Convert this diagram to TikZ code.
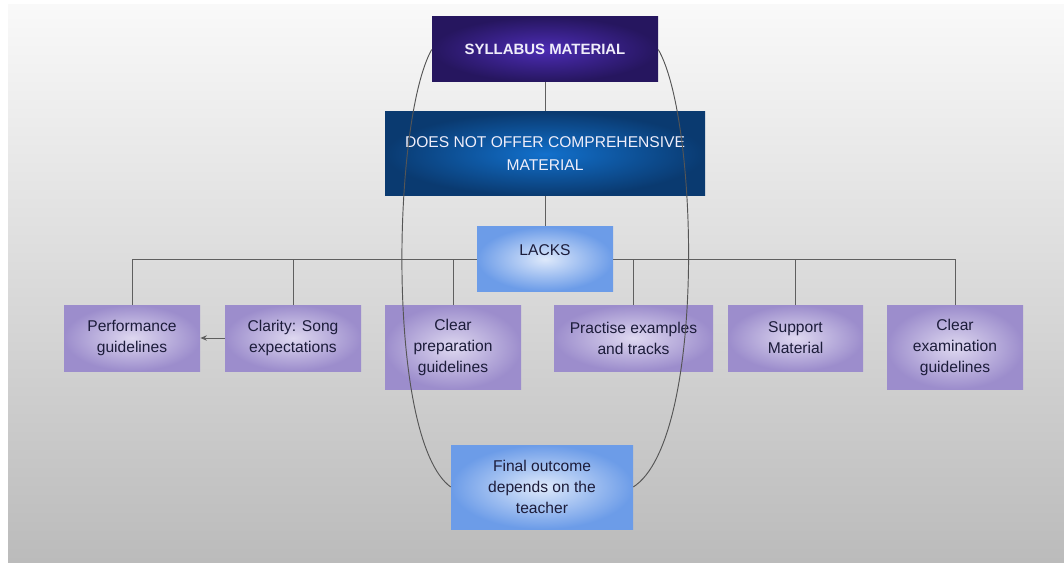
\documentclass[tikz,border=0pt]{standalone}
\usepackage{fontspec}
\setmainfont{Liberation Sans}
\usetikzlibrary{arrows.meta}
\definecolor{bgtop}{RGB}{249,249,249}
\definecolor{bgbot}{RGB}{187,187,187}
\definecolor{sylin}{RGB}{76,44,180}
\definecolor{sylout}{RGB}{38,22,95}
\definecolor{dnoin}{RGB}{18,112,204}
\definecolor{dnoout}{RGB}{10,58,112}
\definecolor{ltin}{RGB}{222,233,251}
\definecolor{ltout}{RGB}{108,156,232}
\definecolor{purin}{RGB}{222,216,240}
\definecolor{purout}{RGB}{156,141,204}
\definecolor{txtdark}{RGB}{28,28,58}
\definecolor{txtlight}{RGB}{240,238,250}
\definecolor{linec}{RGB}{95,95,95}
\definecolor{loopc}{RGB}{85,85,85}
\pgfdeclarelayer{bgl}
\pgfdeclarelayer{lines}
\pgfsetlayers{bgl,lines,main}
\begin{document}
\begin{tikzpicture}[x=0.75pt,y=-0.75pt,
  box/.style={rectangle, inner sep=0pt, align=center, draw=none},
  txt/.style={font=\fontsize{11.7}{15.75}\selectfont},
  sylbox/.style={box, inner color=sylin, outer color=sylout, minimum width=169.5pt, minimum height=48.75pt,
    text=txtlight, font=\bfseries\fontsize{11.2}{13}\selectfont},
  dnobox/.style={box, inner color=dnoin, outer color=dnoout, minimum width=240pt, minimum height=63pt,
    text=txtlight, font=\fontsize{11.7}{17.25}\selectfont},
  ltbox/.style={box, txt, inner color=ltin, outer color=ltout, text=txtdark},
  purbox/.style={box, txt, inner color=purin, outer color=purout, text=txtdark, minimum width=102pt, minimum height=49.5pt},
  tallbox/.style={purbox, minimum height=63pt},
  conn/.style={draw=linec, line width=0.7pt},
  loopline/.style={draw=loopc, line width=0.7pt}
]
\useasboundingbox (0,0) rectangle (1064,563);
\begin{pgfonlayer}{bgl}
  \fill[white] (0,0) rectangle (1064,563);
  \shade[top color=bgtop, bottom color=bgbot] (8,5) rectangle (1064,562);
\end{pgfonlayer}

\node[sylbox] (syl) at (545,49.5) {SYLLABUS MATERIAL};
\node[dnobox] (dno) at (545,154) {DOES NOT OFFER COMPREHENSIVE\\MATERIAL};
\node[ltbox, minimum width=102pt, minimum height=48pt] (lacks) at (545,259) {\raisebox{2.6pt}[0pt][0pt]{LACKS}};

\node[purbox] (perf) at (132,338) {Performance\\guidelines};
\node[purbox] (clar) at (293,338) {Clarity: Song\\expectations};
\node[tallbox] (prep) at (453,347) {Clear\\preparation\\guidelines};
\node[purbox, minimum width=119.25pt] (prac) at (633.5,338) {Practise examples\\and tracks};
\node[purbox, minimum width=101.25pt] (supp) at (795.5,338) {Support\\Material};
\node[tallbox] (exam) at (955,347) {Clear\\examination\\guidelines};

\node[ltbox, minimum width=136.5pt, minimum height=63pt] (fin) at (542,487) {Final outcome\\depends on the\\teacher};

\begin{pgfonlayer}{lines}
  \draw[conn] (syl.south) -- (dno.north);
  \draw[conn] (dno.south) -- (lacks.north);
  \draw[conn] (perf.north) |- (lacks.west);
  \draw[conn] (exam.north) |- (lacks.east);
  \draw[conn] (clar.north) -- (clar.north |- lacks.west);
  \draw[conn] (prep.north) -- (prep.north |- lacks.west);
  \draw[conn] (prac.north) -- (prac.north |- lacks.east);
  \draw[conn] (supp.north) -- (supp.north |- lacks.east);
  \draw[conn, -{Stealth[length=5pt, width=4pt]}] (clar.west) -- (perf.east);
\end{pgfonlayer}

\draw[loopline] (syl.west) .. controls (392,120) and (386,440) .. (fin.west);
\draw[loopline] (syl.east) .. controls (699,120) and (706,440) .. (fin.east);
\end{tikzpicture}
\end{document}
